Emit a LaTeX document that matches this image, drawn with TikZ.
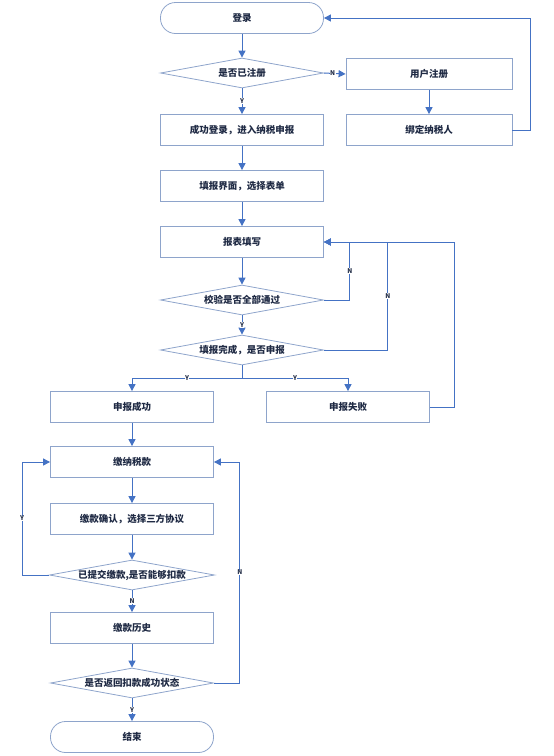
\documentclass[tikz,border=0pt]{standalone}
\usepackage{fontspec}
\setmainfont{Noto Sans CJK SC}
\usetikzlibrary{shapes.geometric,arrows.meta}
\definecolor{flowline}{HTML}{4472C4}
\definecolor{boxline}{HTML}{8EA4CB}
\definecolor{boxtext}{HTML}{1F2A44}
\begin{document}
\begin{tikzpicture}[x=1pt,y=-1pt,
            proc/.style={rectangle,draw=boxline,line width=0.8pt,text=boxtext,
                    minimum width=163pt,minimum height=31pt,font=\fontsize{9.5}{10}\selectfont\bfseries},
            term/.style={proc,rounded corners=15pt},
            dec/.style={diamond,draw=boxline,line width=0.8pt,text=boxtext,aspect=5.5,inner sep=0pt,
                    minimum width=163pt,minimum height=30pt,font=\fontsize{9.5}{10}\selectfont\bfseries},
            flow/.style={draw=flowline,line width=1pt,-{Triangle[length=7pt,width=7pt]}},
            yn/.style={fill=white,inner sep=0.5pt,text=boxtext,font=\fontsize{6.5}{7}\selectfont\bfseries},
        ]
        \useasboundingbox (0,0) rectangle (554,756);

        % Login and registration
        \node[term] (login) at (242,18) {登录};
        \node[dec] (isreg) at (242,73) {是否已注册};
        \node[proc,minimum width=166pt] (userreg) at (429,74) {用户注册};
        \node[proc] (loginok) at (242,130) {成功登录，进入纳税申报};
        \node[proc,minimum width=166pt] (bind) at (429,130) {绑定纳税人};

        % Filling in the return
        \node[proc] (form) at (242,186) {填报界面，选择表单};
        \node[proc] (fill) at (242,242) {报表填写};
        \node[dec] (check) at (242,300) {校验是否全部通过};
        \node[dec] (done) at (242,350) {填报完成，是否申报};
        \node[proc] (succ) at (132,407) {申报成功};
        \node[proc] (fail) at (348,407) {申报失败};

        % Payment
        \node[proc] (pay) at (132,462) {缴纳税款};
        \node[proc] (confirm) at (132,519) {缴款确认，选择三方协议};
        \node[dec] (deduct) at (132,575) {已提交缴款,是否能够扣款};
        \node[proc] (hist) at (132,628) {缴款历史};
        \node[dec] (ret) at (132,683) {是否返回扣款成功状态};
        \node[term] (finish) at (132,737) {结束};

        % Connectors
        \draw[flow] (login) -- (isreg);
        \draw[flow] (isreg) -- node[yn] {Y} (loginok);
        \draw[flow] (isreg.east) -- node[yn,pos=0.4] {N} (userreg.west);
        \draw[flow] (userreg) -- (bind);
        \draw[flow] (bind.east) -- ++(18,0) |- (login.east);
        \draw[flow] (loginok) -- (form);
        \draw[flow] (form) -- (fill);
        \draw[flow] (fill) -- (check);
        \draw[flow] (check) -- node[yn] {Y} (done);
        \draw[flow] (check.east) -- ++(26,0) |- node[yn,pos=0.25] {N} (fill.east);
        \draw[flow] (done.east) -- ++(64,0) |- node[yn,pos=0.25] {N} (fill.east);
        \draw[draw=flowline,line width=1pt] (done.south) -- ++(0,13) coordinate (split);
        \draw[flow] (split) -| node[yn,pos=0.25] {Y} (succ.north);
        \draw[flow] (split) -| node[yn,pos=0.25] {Y} (fail.north);
        \draw[flow] (fail.east) -- ++(25,0) |- (fill.east);
        \draw[flow] (succ) -- (pay);
        \draw[flow] (pay) -- (confirm);
        \draw[flow] (confirm) -- (deduct);
        \draw[flow] (deduct.west) -- ++(-27,0) |- node[yn,pos=0.25] {Y} (pay.west);
        \draw[flow] (deduct) -- node[yn] {N} (hist);
        \draw[flow] (hist) -- (ret);
        \draw[flow] (ret.east) -- ++(26,0) |- node[yn,pos=0.25] {N} (pay.east);
        \draw[flow] (ret) -- node[yn] {Y} (finish);

    \end{tikzpicture}
\end{document}
